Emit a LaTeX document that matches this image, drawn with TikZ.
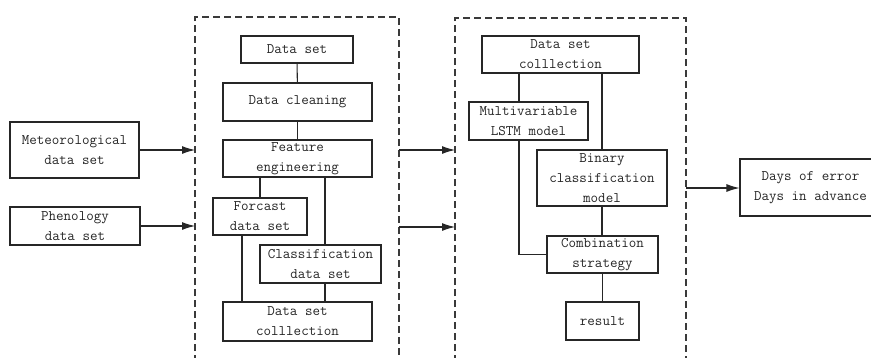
\documentclass[tikz,border=0pt]{standalone}
\usepackage{fontspec}
\usetikzlibrary{arrows.meta}
\definecolor{ink}{HTML}{262626}
\definecolor{dashgray}{HTML}{3A3A3A}
\tikzset{
  box/.style={draw=ink, line width=1.05pt, rectangle, align=center, inner sep=0pt,
    text=ink, font=\ttfamily\fontsize{14.6}{20}\selectfont},
  link/.style={draw=ink, line width=1.05pt},
  feed/.style={draw=ink, line width=1.05pt, -{Latex[length=13pt,width=8pt]}},
  frame/.style={draw=dashgray, line width=1.3pt, dash pattern=on 7pt off 4pt},
}
\begin{document}
\begin{tikzpicture}[x=1pt, y=-1pt]
\clip (0,0) rectangle (871,357);
\fill[white] (0,0) rectangle (871,357);

% dashed processing frames, open at the bottom
\draw[frame] (195,362) -- (195,17) -- (399,17) -- (399,362);
\draw[frame] (455,362) -- (455,18) -- (686,18) -- (686,362);

% input data
\node[box, minimum width=129pt, minimum height=56pt] (met) at (74.5,150) {Meteorological\\data set};
\node[box, minimum width=130pt, minimum height=38pt] (phe) at (75,226) {Phenology\\data set};

% data preparation
\node[box, minimum width=112pt, minimum height=27pt] (ds) at (297,49.5) {Data set};
\node[box, minimum width=149pt, minimum height=38pt] (clean) at (297.5,102) {Data cleaning};
\node[box, minimum width=149pt, minimum height=37pt] (feat) at (297.5,158.5) {Feature\\engineering};
\node[box, minimum width=94pt, minimum height=37pt] (fore) at (260,216.5) {Forcast\\data set};
\node[box, minimum width=121pt, minimum height=38pt] (cls) at (320.5,264) {Classification\\data set};
\node[box, minimum width=149pt, minimum height=39pt] (dsc1) at (297.5,321.5) {Data set\\colllection};

% modelling
\node[box, minimum width=157pt, minimum height=37pt] (dsc2) at (560.5,54.5) {Data set\\colllection};
\node[box, minimum width=119pt, minimum height=38pt] (lstm) at (528.5,121) {Multivariable\\LSTM model};
\node[box, minimum width=130pt, minimum height=56pt] (bin) at (602,178) {Binary\\classification\\model};
\node[box, minimum width=111pt, minimum height=37pt] (comb) at (602.5,254.5) {Combination\\strategy};
\node[box, minimum width=73pt, minimum height=38pt] (res) at (602.5,321) {result};

% output
\node[box, minimum width=141pt, minimum height=57pt] (out) at (810.5,187.5) {Days of error\\Days in advance};

% frame anchors for the arrows
\coordinate (f1a) at (195,150);
\coordinate (f1b) at (195,226);
\coordinate (f1c) at (399,150);
\coordinate (f1d) at (399,227);
\coordinate (f2a) at (455,150);
\coordinate (f2b) at (455,227);
\coordinate (f2c) at (686,188);

% preparation links
\draw[link] (ds) -- (clean);
\draw[link] (clean) -- (feat);
\draw[link] (fore.north) -- (fore.north |- feat.south);
\draw[link] ([xshift=4.5pt]cls.north) -- ([xshift=4.5pt]cls.north |- feat.south);
\draw[link] ([xshift=-18pt]fore.south) -- ([xshift=-18pt]fore.south |- dsc1.north);
\draw[link] ([xshift=4.5pt]cls.south) -- ([xshift=4.5pt]cls.south |- dsc1.north);

% modelling links
\draw[link] ([xshift=-9.5pt]lstm.north) -- ([xshift=-9.5pt]lstm.north |- dsc2.south);
\draw[link] (bin.north) -- (bin.north |- dsc2.south);
\draw[link] ([xshift=-9.5pt]lstm.south) |- (comb.west);
\draw[link] (bin.south) -- (bin.south |- comb.north);
\draw[link] (comb.south) -- (res.north);

% flow between stages
\draw[feed] (met.east |- f1a) -- (f1a);
\draw[feed] (phe.east |- f1b) -- (f1b);
\draw[feed] (f1c) -- (f2a);
\draw[feed] (f1d) -- (f2b);
\draw[feed] (f2c) -- (out.west |- f2c);
\end{tikzpicture}
\end{document}
